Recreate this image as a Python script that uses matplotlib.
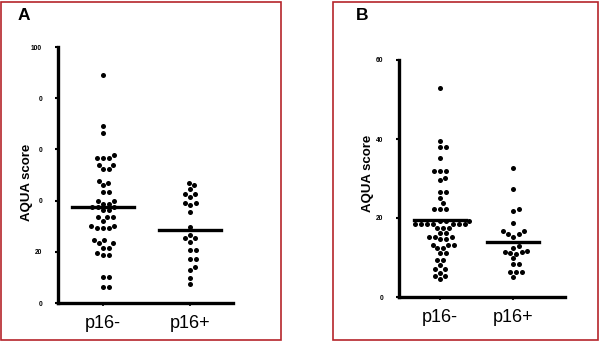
import numpy as np
import matplotlib
matplotlib.use("Agg")
import matplotlib.pyplot as plt
from matplotlib.patches import Rectangle

plt.rcParams['font.family'] = ['Liberation Sans', 'DejaVu Sans']

# values
groups = ['p16-', 'p16+']

a_neg = [89, 69, 66.5, 57.8, 56.5, 56.5, 56.5, 53.9, 53.9, 52.2, 52.2, 47.8, 46.8,
         46.1, 43.2, 43.2, 39.8, 39.8, 38.7, 38.7, 37.4, 37.4, 37.4, 36.3, 36.3,
         33.5, 33.5, 33.5, 32.0, 30.1, 30.1, 29.2, 29.2, 29.2, 24.6, 24.6, 23.3,
         23.3, 21.6, 21.6, 19.4, 18.8, 18.8, 10.3, 10.3, 6.1, 6.1]
a_pos = [47.0, 46.1, 44.4, 42.6, 42.6, 41.5, 38.9, 38.9, 38.3, 35.7, 29.8, 26.6,
         25.3, 25.3, 24.0, 20.7, 20.7, 17.1, 17.1, 14.2, 12.9, 9.6, 7.4]
a_medians = [37.5, 28.6]
a_ticks = [0, 20, 40, 60, 80, 100]
a_ticklabels = ['0', '20', '0', '0', '0', '100']

b_neg = [52.8, 39.6, 38.1, 38.1, 35.1, 32.0, 31.8, 31.8, 30.2, 29.5, 26.7, 26.7,
         25.0, 23.7, 22.4, 22.4, 22.4, 19.3, 19.3, 19.3, 18.4, 18.4, 18.4, 18.4,
         18.4, 18.4, 18.4, 17.4, 17.4, 17.4, 16.1, 16.1, 15.1, 15.1, 15.1, 14.6,
         14.6, 13.2, 13.2, 13.2, 12.3, 12.3, 11.1, 11.1, 9.4, 9.4, 8.1, 7.0, 7.0,
         6.2, 5.4, 5.4, 4.6]
b_pos = [32.6, 27.3, 22.2, 21.8, 18.7, 16.7, 16.7, 15.9, 15.9, 15.3, 13.0, 12.4,
         11.6, 11.4, 11.3, 11.1, 11.0, 9.8, 8.3, 8.3, 6.4, 6.4, 6.4, 5.1]
b_medians = [19.6, 13.9]
b_ticks = [0, 20, 40, 60]
b_ticklabels = ['0', '20', '40', '60']


def swarm_offsets(ax, x0, values, d=5.6):
    # simple beeswarm in pixel space, returns x data positions
    to_px = ax.transData
    ys = [to_px.transform((x0, v))[1] for v in values]
    order = np.argsort(ys)
    placed = []
    xs_px = np.zeros(len(values))
    cands = np.concatenate([[0], np.repeat(np.arange(0.5, 40, 0.5), 2) * np.tile([1, -1], 79)])
    for i in order:
        y = ys[i]
        for c in cands:
            ok = True
            for (px, py) in placed:
                if (px - c) ** 2 + (py - y) ** 2 < d * d:
                    ok = False
                    break
            if ok:
                break
        placed.append((c, y))
        xs_px[i] = c
    x0_px = to_px.transform((x0, 0))[0]
    inv = to_px.inverted()
    return [inv.transform((x0_px + c, 0))[0] for c in xs_px]


def panel(ax, data, medians, ylim, ticks, ticklabels, xlim):
    ax.set_xlim(*xlim)
    ax.set_ylim(*ylim)
    for s in ['top', 'right']:
        ax.spines[s].set_visible(False)
    for s in ['left', 'bottom']:
        ax.spines[s].set_linewidth(2.4)
        ax.spines[s].set_color('black')
    ax.set_yticks(ticks)
    ax.set_yticklabels(ticklabels, fontsize=4.8, fontweight='bold')
    ax.tick_params(axis='y', length=2.5, width=1.5, pad=9)
    ax.set_xticks([1, 2])
    ax.set_xticklabels(groups, fontsize=13)
    ax.tick_params(axis='x', length=2.5, width=1.2, pad=6)
    for k, vals in enumerate(data):
        xs = swarm_offsets(ax, k + 1, vals)
        ax.scatter(xs, vals, s=13, color='black', zorder=3, clip_on=False, linewidths=0)
        ax.plot([k + 1 - 0.36, k + 1 + 0.36], [medians[k], medians[k]], color='black', lw=2.4, zorder=4)
    ax.set_ylabel('AQUA score', fontsize=9.5, fontweight='bold')


fig = plt.figure(figsize=(6, 3.42), dpi=100)

ax_a = fig.add_axes([58 / 600, 39 / 342, 175 / 600, 256 / 342])
panel(ax_a, [a_neg, a_pos], a_medians, (0, 100), a_ticks, a_ticklabels, (0.483, 2.494))
ax_a.yaxis.set_label_coords(-0.14, 0.47)

ax_b = fig.add_axes([399 / 600, 45 / 342, 166 / 600, 237 / 342])
panel(ax_b, [b_neg, b_pos], b_medians, (0, 60), b_ticks, b_ticklabels, (0.438, 2.71))
ax_b.yaxis.set_label_coords(-0.15, 0.52)

# red frames and panel letters
fig.patches.append(Rectangle((1 / 600, 2 / 342), 280 / 600, 338 / 342, transform=fig.transFigure,
                             fill=False, edgecolor='#b5252b', lw=1.2))
fig.patches.append(Rectangle((333 / 600, 2 / 342), 265 / 600, 338 / 342, transform=fig.transFigure,
                             fill=False, edgecolor='#b5252b', lw=1.2))
fig.text(24 / 600, 1 - 16 / 342, 'A', fontsize=12.5, fontweight='bold', va='center', ha='center')
fig.text(362 / 600, 1 - 16 / 342, 'B', fontsize=12.5, fontweight='bold', va='center', ha='center')

fig.savefig('out.png', dpi=100)
